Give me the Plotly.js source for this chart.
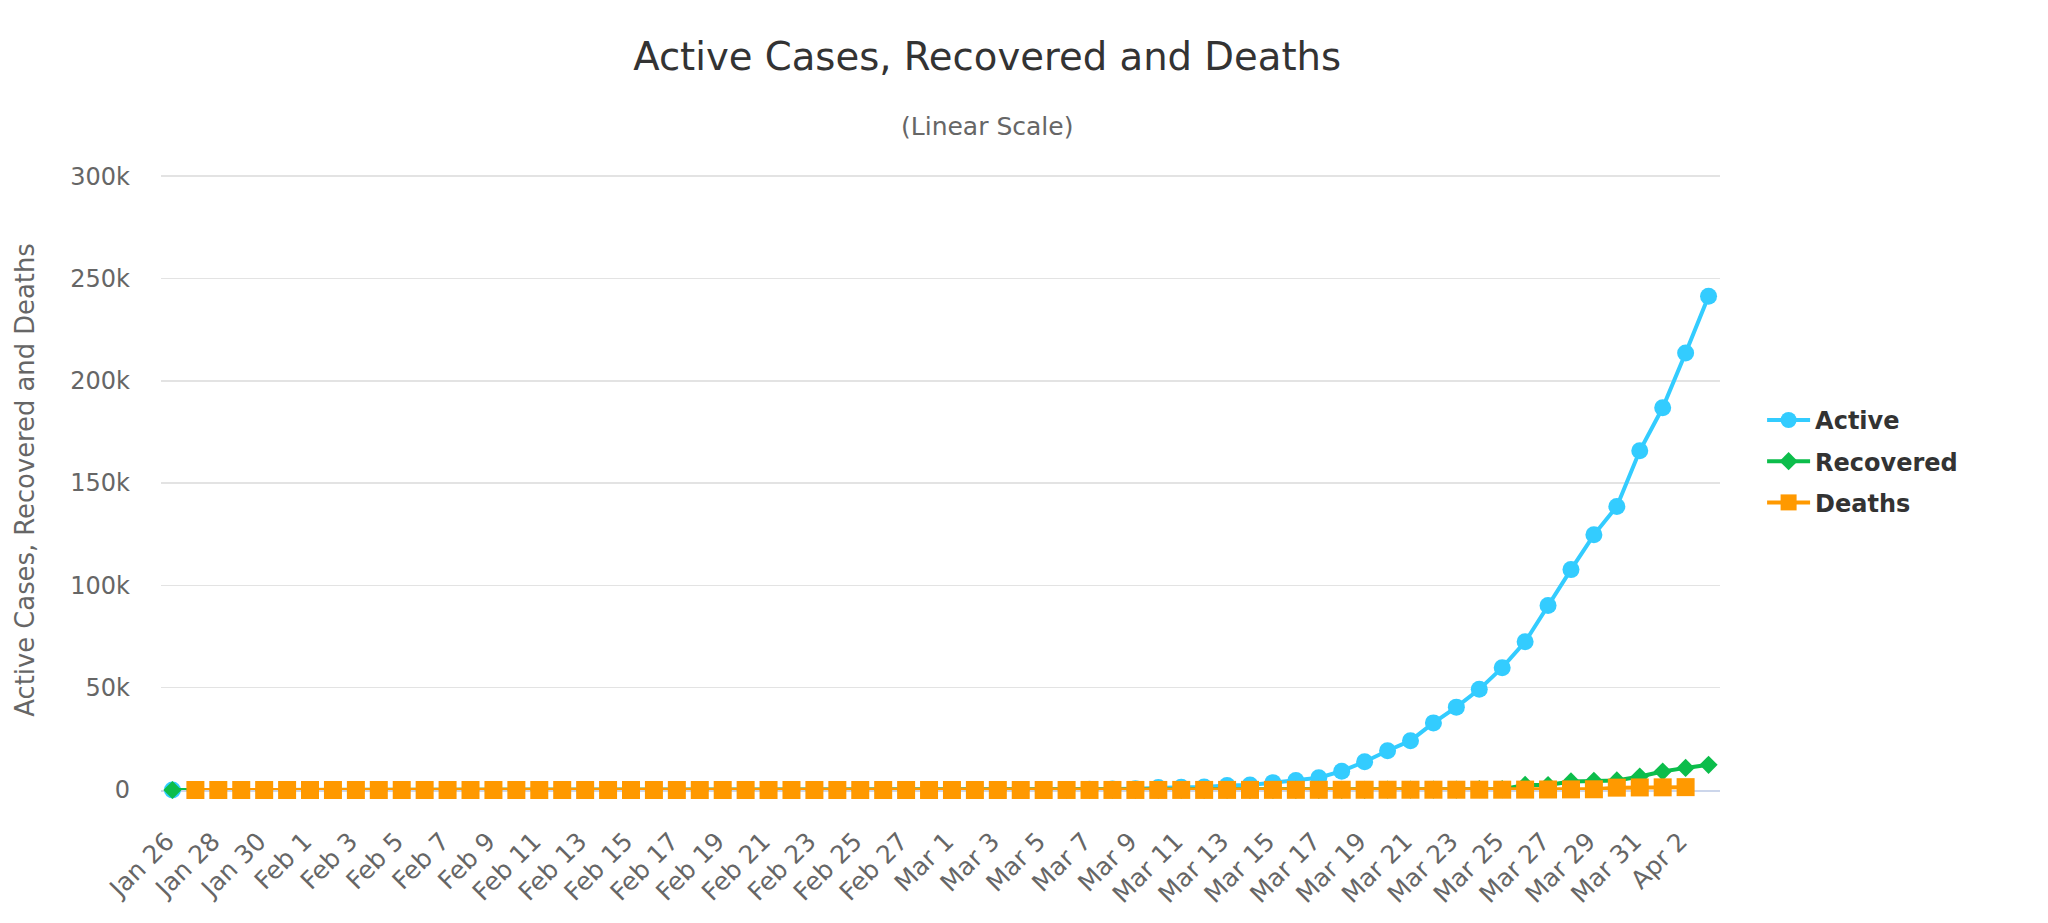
<!DOCTYPE html>
<html>
<head>
<meta charset="utf-8">
<script src="https://cdn.plot.ly/plotly-3.0.1.min.js"></script>
<style>
html,body{margin:0;padding:0;background:#ffffff;}
#chart{width:2048px;height:923px;}
</style>
</head>
<body>
<div id="chart"></div>
<script>
// Categories (dates as shown on the x axis; the source has no Feb 29)
const dates = [
  "Jan 26","Jan 27","Jan 28","Jan 29","Jan 30","Jan 31",
  "Feb 1","Feb 2","Feb 3","Feb 4","Feb 5","Feb 6","Feb 7","Feb 8","Feb 9","Feb 10",
  "Feb 11","Feb 12","Feb 13","Feb 14","Feb 15","Feb 16","Feb 17","Feb 18","Feb 19","Feb 20",
  "Feb 21","Feb 22","Feb 23","Feb 24","Feb 25","Feb 26","Feb 27","Feb 28",
  "Mar 1","Mar 2","Mar 3","Mar 4","Mar 5","Mar 6","Mar 7","Mar 8","Mar 9","Mar 10",
  "Mar 11","Mar 12","Mar 13","Mar 14","Mar 15","Mar 16","Mar 17","Mar 18","Mar 19","Mar 20",
  "Mar 21","Mar 22","Mar 23","Mar 24","Mar 25","Mar 26","Mar 27","Mar 28","Mar 29","Mar 30",
  "Mar 31","Apr 1","Apr 2","Apr 3"
];

// Series values
const active = [
  5,5,5,5,6,7,
  8,8,11,11,11,11,11,11,11,11,12,12,12,12,12,12,12,12,12,12,31,31,31,44,44,45,46,49,
  66,80,104,126,190,240,370,480,640,
  1200,1300,1500,2200,2400,3600,4600,6000,9200,13800,19200,24100,32800,40500,49200,59800,
  72400,90200,107700,124700,138600,165800,186800,213600,241300
];
const recovered = [
  0,0,0,0,0,0,
  0,0,0,0,0,0,0,0,3,3,3,3,3,3,3,3,3,3,3,3,5,5,5,5,6,6,6,7,
  7,7,8,8,8,8,8,8,8,
  8,8,12,12,12,12,17,17,105,108,147,171,178,178,380,400,
  2500,2400,4200,4500,4700,6600,9000,10800,12300
];
const deaths = [
  null,0,0,0,0,0,
  0,0,0,0,0,0,0,0,0,0,0,0,0,0,0,0,0,0,0,0,0,0,0,0,0,0,0,1,
  1,6,9,11,12,15,19,22,26,
  30,38,41,48,57,68,86,100,110,120,125,130,135,140,145,
  150,200,250,300,350,1150,1250,1300,1400
];

const seriesNames = ["Active","Recovered","Deaths"];
const seriesColors = ["#33ccff","#0cbd4b","#ff9900"];
const yTickValues = [0,50000,100000,150000,200000,250000,300000];
const yTickLabels = ["0","50k","100k","150k","200k","250k","300k"];
const xTickLabels = dates.filter((d,i)=>i%2===0);

const FONT = "DejaVu Sans";

const traces = [
  {x:dates, y:active, name:seriesNames[0], type:"scatter", mode:"lines+markers",
   line:{color:seriesColors[0], width:4}, marker:{symbol:"circle", size:17, color:seriesColors[0]},
   legendgroup:"a", cliponaxis:false, hoverinfo:"skip"},
  {x:dates, y:recovered, name:seriesNames[1], type:"scatter", mode:"lines+markers",
   line:{color:seriesColors[1], width:4}, marker:{symbol:"diamond", size:14, color:seriesColors[1]},
   legendgroup:"b", cliponaxis:false, hoverinfo:"skip"},
  {x:dates, y:deaths, name:seriesNames[2], type:"scatter", mode:"lines+markers",
   line:{color:seriesColors[2], width:4}, marker:{symbol:"square", size:18, color:seriesColors[2]},
   legendgroup:"c", cliponaxis:false, hoverinfo:"skip"}
];

const layout = {
  width:2048, height:923,
  margin:{l:161, r:328, t:170, b:133},
  paper_bgcolor:"#ffffff", plot_bgcolor:"#ffffff",
  font:{family:FONT, color:"#666666"},
  title:{text:"Active Cases, Recovered and Deaths",
         font:{family:FONT, size:38.6, color:"#333333"},
         xref:"container", x:0.482, xanchor:"center",
         yref:"container", y:0.9385, yanchor:"middle"},
  annotations:[{text:"(Linear Scale)", xref:"paper", yref:"paper", x:0.530, y:1.0695,
                xanchor:"center", yanchor:"middle", showarrow:false,
                font:{family:FONT, size:25, color:"#666666"}}],
  xaxis:{type:"category", range:[-0.5, dates.length-0.5],
         tickmode:"array", tickvals:xTickLabels, ticktext:xTickLabels.map(s=>s+"\u00a0"),
         tickangle:-45, tickfont:{family:FONT, size:25, color:"#666666"},
         ticklabelstandoff:19,
         showgrid:false, zeroline:false, showline:true, linecolor:"#ccd6eb", linewidth:2,
         layer:"below traces", ticks:"", automargin:false, fixedrange:true},
  yaxis:{range:[0,303000], tickmode:"array", tickvals:yTickValues, ticktext:yTickLabels,
         tickfont:{family:FONT, size:24, color:"#666666"},
         gridcolor:"#e3e3e3", gridwidth:1.5, zeroline:false, showline:false, ticks:"",
         layer:"below traces",
         ticklabelstandoff:30, automargin:false, fixedrange:true,
         title:{text:"Active Cases, Recovered and Deaths", standoff:28,
                font:{family:FONT, size:25.8, color:"#666666"}}},
  showlegend:true,
  legend:{x:1.027, xanchor:"left", y:0.530, yanchor:"middle",
          font:{family:FONT, size:24, color:"#333333", weight:"bold"},
          itemwidth:43, tracegroupgap:7, bgcolor:"rgba(0,0,0,0)", borderwidth:0}
};

Plotly.newPlot("chart", traces, layout, {displayModeBar:false, staticPlot:true});
</script>
</body>
</html>
